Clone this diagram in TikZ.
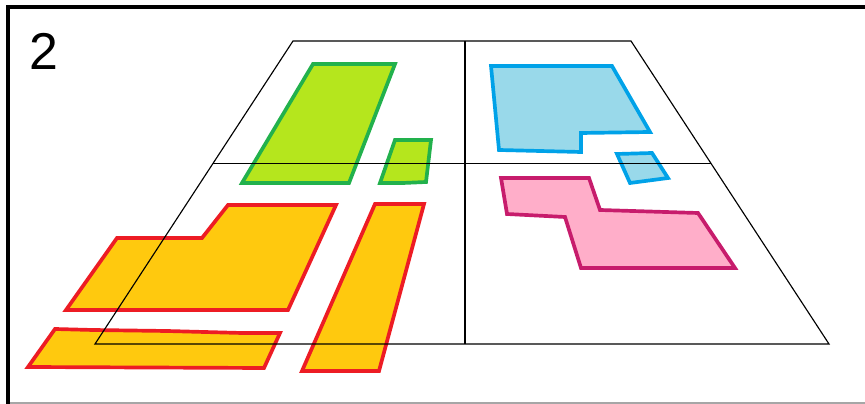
\documentclass[tikz,border=0pt]{standalone}
\usepackage{fontspec}
\setmainfont{Liberation Sans}
\usetikzlibrary{positioning, calc}
\definecolor{limefill}{HTML}{B5E61D}
\definecolor{limeline}{HTML}{22B14C}
\definecolor{skyfill}{HTML}{99D9EA}
\definecolor{skyline}{HTML}{00A2E8}
\definecolor{rosefill}{HTML}{FFAEC9}
\definecolor{roseline}{HTML}{C71C6C}
\definecolor{amberfill}{HTML}{FFC90E}
\definecolor{amberline}{HTML}{ED1C24}
\begin{document}
\begin{tikzpicture}[
  x=0.02cm, y=-0.02cm,
  lot/.style={line width=2.1pt, line join=miter},
  limelot/.style={lot, fill=limefill, draw=limeline},
  skylot/.style={lot, fill=skyfill, draw=skyline},
  roselot/.style={lot, fill=rosefill, draw=roseline},
  amberlot/.style={lot, fill=amberfill, draw=amberline},
  gridline/.style={draw=black, line width=0.65pt},
  panelno/.style={font=\fontsize{29.5}{30}\selectfont, inner sep=0pt}
]

%% frame
\useasboundingbox (0,0) rectangle (865,404);
\draw[gray!70, line width=0.9pt] (8,403) -- (865,403);
\draw[black, line width=1.8pt] (865,7) -- (8,7) -- (8,404);
\node[panelno] (num) at (43.5,51.5) {2};

%% lots, upper left
\draw[limelot] (313,64) -- (395,64) -- (349,183) -- (242,183) -- cycle;
\draw[limelot] (395,140) -- (431,140) -- (426,182) -- (403,183) -- (380,183) -- cycle;

%% lots, upper right
\draw[skylot] (491,66) -- (612,66) -- (650,132) -- (581,133) -- (581,152)
  -- (499,150) -- cycle;
\draw[skylot] (617,154) -- (652,153) -- (668,178) -- (630,183) -- cycle;

%% lot, lower right
\draw[roselot] (501,178) -- (589,178) -- (600,210) -- (698,213) -- (735,268)
  -- (581,268) -- (565,217) -- (507,214) -- cycle;

%% lots, lower left
\draw[amberlot] (117,238) -- (202,238) -- (228,205) -- (336,205) -- (288,310)
  -- (66,310) -- cycle;
\draw[amberlot] (55,329) -- (93,330) -- (167,331) -- (242,333) -- (280,333)
  -- (264,368) -- (28,367) -- cycle;
\draw[amberlot] (375,204) -- (424,204) -- (379,371) -- (302,371) -- cycle;

%% grid on top
\coordinate (nw) at (293,41);
\coordinate (ne) at (631,41);
\coordinate (se) at (829,344);
\coordinate (sw) at (95,344);
\draw[gridline] (nw) -- (ne) -- (se) -- (sw) -- cycle;
\draw[gridline] ($(nw)!0.4037!(sw)$) -- ($(ne)!0.4037!(se)$);
\draw[gridline] (465,41) -- (465,344);

\end{tikzpicture}
\end{document}
